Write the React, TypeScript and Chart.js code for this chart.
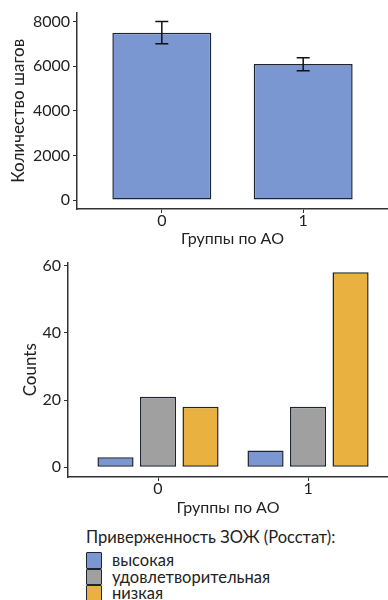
import { useEffect, useRef } from 'react';
import { Chart, registerables } from 'chart.js';

Chart.register(...registerables);

// Groups on the x axis (АО = абдоминальное ожирение)
const groups = ['0', '1'];

// Mean daily steps per group with error-bar limits
const stepMeans = [7500, 6100];
const stepLow = [7000, 5800];
const stepHigh = [8000, 6380];
const stepTicks = [0, 2000, 4000, 6000, 8000];

// Counts by healthy-lifestyle adherence level
const zojLevels = ['высокая', 'удовлетворительная', 'низкая'];
const countsHigh = [3, 5];
const countsFair = [21, 18];
const countsLow = [18, 58];
const countTicks = [0, 20, 40, 60];

const zojColors = ['#7b97d2', '#a0a0a0', '#e9b13f'];
const barEdge = '#1f2433';
const axisColor = '#333333';
const textColor = '#222222';
const FONT = 'Lato, "Open Sans", sans-serif';

const tickFont = { family: FONT, size: 16 };
const xTitleFont = { family: FONT, size: 16 };
const yTitleFont = { family: FONT, size: 17 };

const errorBars = {
  id: 'errorBars',
  afterDatasetsDraw(chart: any) {
    const { ctx } = chart;
    const x = chart.scales.x;
    const y = chart.scales.y;
    ctx.save();
    ctx.strokeStyle = '#111111';
    ctx.lineWidth = 1.5;
    stepMeans.forEach((_, i) => {
      const px = x.getPixelForValue(i + 1);
      const top = y.getPixelForValue(stepHigh[i]);
      const bot = y.getPixelForValue(stepLow[i]);
      ctx.beginPath();
      ctx.moveTo(px, top);
      ctx.lineTo(px, bot);
      ctx.moveTo(px - 6.5, top);
      ctx.lineTo(px + 6.5, top);
      ctx.moveTo(px - 6.5, bot);
      ctx.lineTo(px + 6.5, bot);
      ctx.stroke();
    });
    ctx.restore();
  },
};

function xAxis(max: number, height: number, titlePadBottom: number) {
  return {
    type: 'linear',
    min: 0.4,
    max,
    bounds: 'data',
    offset: false,
    afterBuildTicks: (s: any) => {
      s.ticks = groups.map((_, i) => ({ value: i + 1 }));
    },
    afterFit: (s: any) => {
      s.height = height;
    },
    ticks: {
      callback: (v: number) => groups[v - 1],
      font: tickFont,
      color: textColor,
      padding: -2,
      autoSkip: false,
      maxRotation: 0,
    },
    grid: {
      display: true,
      drawOnChartArea: false,
      drawTicks: true,
      tickLength: 4,
      color: axisColor,
      offset: false,
    },
    border: { display: true, color: axisColor, width: 1.5 },
    title: {
      display: true,
      text: 'Группы по АО',
      font: xTitleFont,
      color: textColor,
      padding: { top: 0, bottom: titlePadBottom },
    },
  };
}

function yAxis(min: number, max: number, ticks: number[], width: number, title: string, titlePad: number) {
  return {
    type: 'linear',
    min,
    max,
    bounds: 'data',
    afterBuildTicks: (s: any) => {
      s.ticks = ticks.map((v) => ({ value: v }));
    },
    afterFit: (s: any) => {
      s.width = width;
    },
    ticks: { font: tickFont, color: textColor, padding: 3, callback: (v: number) => String(v) },
    grid: {
      display: true,
      drawOnChartArea: false,
      drawTicks: true,
      tickLength: 4,
      color: axisColor,
    },
    border: { display: true, color: axisColor, width: 1.5 },
    title: {
      display: true,
      text: title,
      font: yTitleFont,
      color: textColor,
      padding: { top: titlePad, bottom: 0 },
    },
  };
}

function StepsChart() {
  const ref = useRef<HTMLCanvasElement>(null);
  useEffect(() => {
    const chart = new Chart(ref.current!, {
      type: 'bar',
      data: {
        datasets: [
          {
            data: stepMeans.map((v, i) => ({ x: i + 1, y: v })),
            backgroundColor: zojColors[0],
            borderColor: barEdge,
            borderWidth: 1.5,
            borderSkipped: false,
            categoryPercentage: 0.7,
            barPercentage: 1,
          },
        ],
      },
      options: {
        animation: false,
        responsive: false,
        devicePixelRatio: 1,
        layout: { padding: { top: 10, left: 0, right: 0, bottom: 0 } },
        plugins: { legend: { display: false }, tooltip: { enabled: false } },
        scales: {
          x: xAxis(2.6, 41, 1.5),
          y: yAxis(-400, 8400, stepTicks, 77, 'Количество шагов', 8),
        },
      } as any,
      plugins: [errorBars],
    });
    return () => chart.destroy();
  }, []);
  return (
    <canvas
      ref={ref}
      width={388}
      height={250}
      style={{ position: 'absolute', left: 0, top: 0, width: 388, height: 250 }}
    />
  );
}

function CountsChart() {
  const ref = useRef<HTMLCanvasElement>(null);
  useEffect(() => {
    const series = [countsHigh, countsFair, countsLow];
    const chart = new Chart(ref.current!, {
      type: 'bar',
      data: {
        datasets: series.map((vals, k) => ({
          label: zojLevels[k],
          data: vals.map((v, i) => ({ x: i + 1, y: v })),
          backgroundColor: zojColors[k],
          borderColor: barEdge,
          borderWidth: 1.5,
          borderSkipped: false,
          categoryPercentage: 0.85,
          barPercentage: 0.85,
        })),
      },
      options: {
        animation: false,
        responsive: false,
        devicePixelRatio: 1,
        layout: { padding: { top: 12.5, left: 0, right: 0, bottom: 0 } },
        plugins: { legend: { display: false }, tooltip: { enabled: false } },
        scales: {
          x: xAxis(2.533, 43, 3),
          y: yAxis(-2.9, 60.9, countTicks, 68, 'Counts', 20),
        },
      } as any,
    });
    return () => chart.destroy();
  }, []);
  return (
    <canvas
      ref={ref}
      width={388}
      height={270}
      style={{ position: 'absolute', left: 0, top: 250, width: 388, height: 270 }}
    />
  );
}

function Legend() {
  return (
    <div
      style={{
        position: 'absolute',
        left: 86,
        top: 528,
        fontFamily: FONT,
        color: textColor,
        fontSize: 16.5,
      }}
    >
      <div style={{ lineHeight: '19px', marginBottom: 5, whiteSpace: 'nowrap' }}>
        Приверженность ЗОЖ (Росстат):
      </div>
      {zojLevels.map((lvl, k) => (
        <div key={lvl} style={{ display: 'flex', alignItems: 'center', height: 16.5, whiteSpace: 'nowrap' }}>
          <span
            style={{
              display: 'inline-block',
              boxSizing: 'border-box',
              width: 16,
              height: 16.5,
              background: zojColors[k],
              border: `1.5px solid ${barEdge}`,
              borderRadius: 1,
              marginRight: 10,
            }}
          />
          <span style={{ lineHeight: '16px' }}>{lvl}</span>
        </div>
      ))}
    </div>
  );
}

export default function App() {
  return (
    <div
      style={{
        position: 'absolute',
        left: 0,
        top: 0,
        width: 388,
        height: 600,
        background: '#ffffff',
        overflow: 'hidden',
      }}
    >
      <StepsChart />
      <CountsChart />
      <Legend />
    </div>
  );
}
